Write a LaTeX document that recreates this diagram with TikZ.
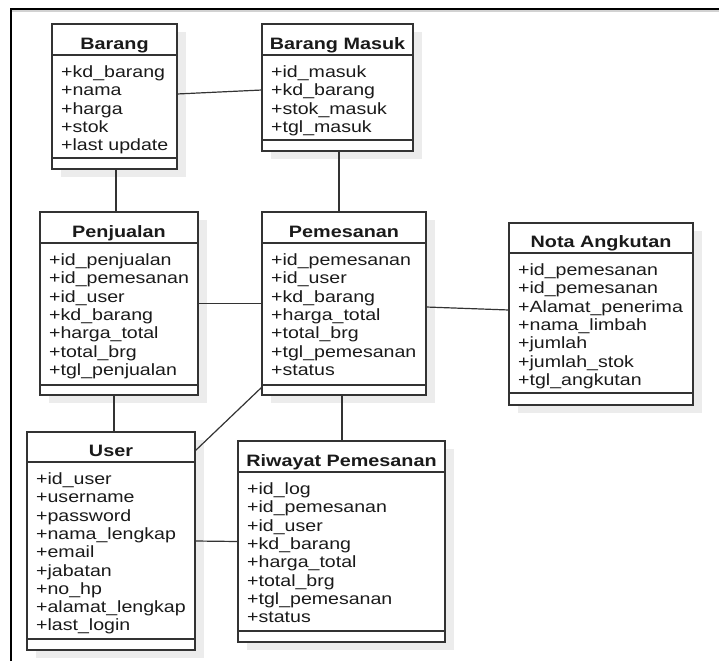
\documentclass[tikz,border=0pt]{standalone}
\usepackage{fontspec}
\setmainfont{Liberation Sans}[FakeStretch=1.2]
\definecolor{linec}{HTML}{333333}
\definecolor{txtc}{HTML}{1A1A1A}
\definecolor{shadc}{HTML}{ECECEC}
\tikzset{
 classbox/.style={draw=linec, line width=1.3pt, fill=white, inner sep=0pt, outer sep=0pt},
 sepline/.style={draw=linec, line width=1.3pt},
 ctitle/.style={font=\bfseries\fontsize{16.5}{18}\selectfont, text=txtc, inner sep=0pt},
 cattr/.style={font=\fontsize{16.3}{18}\selectfont, text=txtc, inner sep=0pt},
 conn/.style={draw=linec, line width=1.2pt},
}
\newcommand{\umlclass}[9]{%
 \fill[shadc] (#2+9,#3+8) rectangle (#4+9,#7+8);
 \node[classbox, minimum width={(#4-#2)*1pt}, minimum height={(#7-#3)*1pt}] (#1) at ({(#2+#4)/2},{(#3+#7)/2}) {};
 \draw[sepline] (#2,#5) -- (#4,#5);
 \draw[sepline] (#2,#6) -- (#4,#6);
 \node[ctitle, anchor=base] (#1-title) at ({(#2+#4)/2},#5-6) {#8};
 \foreach \atx [count=\i from 0] in {#9} {\node[cattr, anchor=base west] (#1-a\i) at (#2+9,#5+22.5+18.3*\i) {\atx};}
}
\begin{document}
\begin{tikzpicture}[x=1pt,y=-1pt]
\useasboundingbox[fill=white] (0,0) rectangle (719,661);
% frame
\draw[gray!35, line width=1.2pt] (12,11) -- (719,11);
\draw[black, line width=2.2pt] (11,661) -- (11,9) -- (719,9);
% classes
\umlclass{barang}{52}{24}{177}{55}{158}{169}{Barang}{+kd\_barang,+nama,+harga,+stok,+last update}
\umlclass{bmasuk}{262}{24}{413}{55}{140}{151}{Barang Masuk}{+id\_masuk,+kd\_barang,+stok\_masuk,+tgl\_masuk}
\umlclass{penjualan}{40}{212}{198}{243}{385}{395}{Penjualan}{+id\_penjualan,+id\_pemesanan,+id\_user,+kd\_barang,+harga\_total,+total\_brg,+tgl\_penjualan}
\umlclass{pemesanan}{262}{212}{426}{243}{385}{395}{Pemesanan}{+id\_pemesanan,+id\_user,+kd\_barang,+harga\_total,+total\_brg,+tgl\_pemesanan,+status}
\umlclass{nota}{509}{223}{693}{253}{393}{405}{Nota Angkutan}{+id\_pemesanan,+id\_pemesanan,+Alamat\_penerima,+nama\_limbah,+jumlah,+jumlah\_stok,+tgl\_angkutan}
\umlclass{user}{27}{432}{195}{462}{639}{650}{User}{+id\_user,+username,+password,+nama\_lengkap,+email,+jabatan,+no\_hp,+alamat\_lengkap,+last\_login}
\umlclass{riwayat}{238}{441}{445}{472}{631}{642}{Riwayat Pemesanan}{+id\_log,+id\_pemesanan,+id\_user,+kd\_barang,+harga\_total,+total\_brg,+tgl\_pemesanan,+status}
% connectors
\draw[conn] ([yshift=2.5pt]barang.east) -- ([yshift=-2.5pt]bmasuk.west);
\draw[conn] ([xshift=1.5pt]barang.south) -- ([xshift=1.5pt]barang.south |- penjualan.north);
\draw[conn] ([xshift=1.5pt]bmasuk.south) -- ([xshift=1.5pt]bmasuk.south |- pemesanan.north);
\draw[conn] (penjualan.east) -- (pemesanan.west);
\draw[conn] ([yshift=-3.5pt]pemesanan.east) -- ([yshift=4pt]nota.west);
\draw[conn] ([xshift=-5pt]penjualan.south) -- ([xshift=-5pt]penjualan.south |- user.north);
\draw[conn] ([xshift=-2pt]pemesanan.south) -- ([xshift=-2pt]pemesanan.south |- riwayat.north);
\draw[conn] ([yshift=8pt]pemesanan.south west) -- ([yshift=-19pt]user.north east);
\draw[conn] (user.east) -- (riwayat.west);
\end{tikzpicture}
\end{document}
